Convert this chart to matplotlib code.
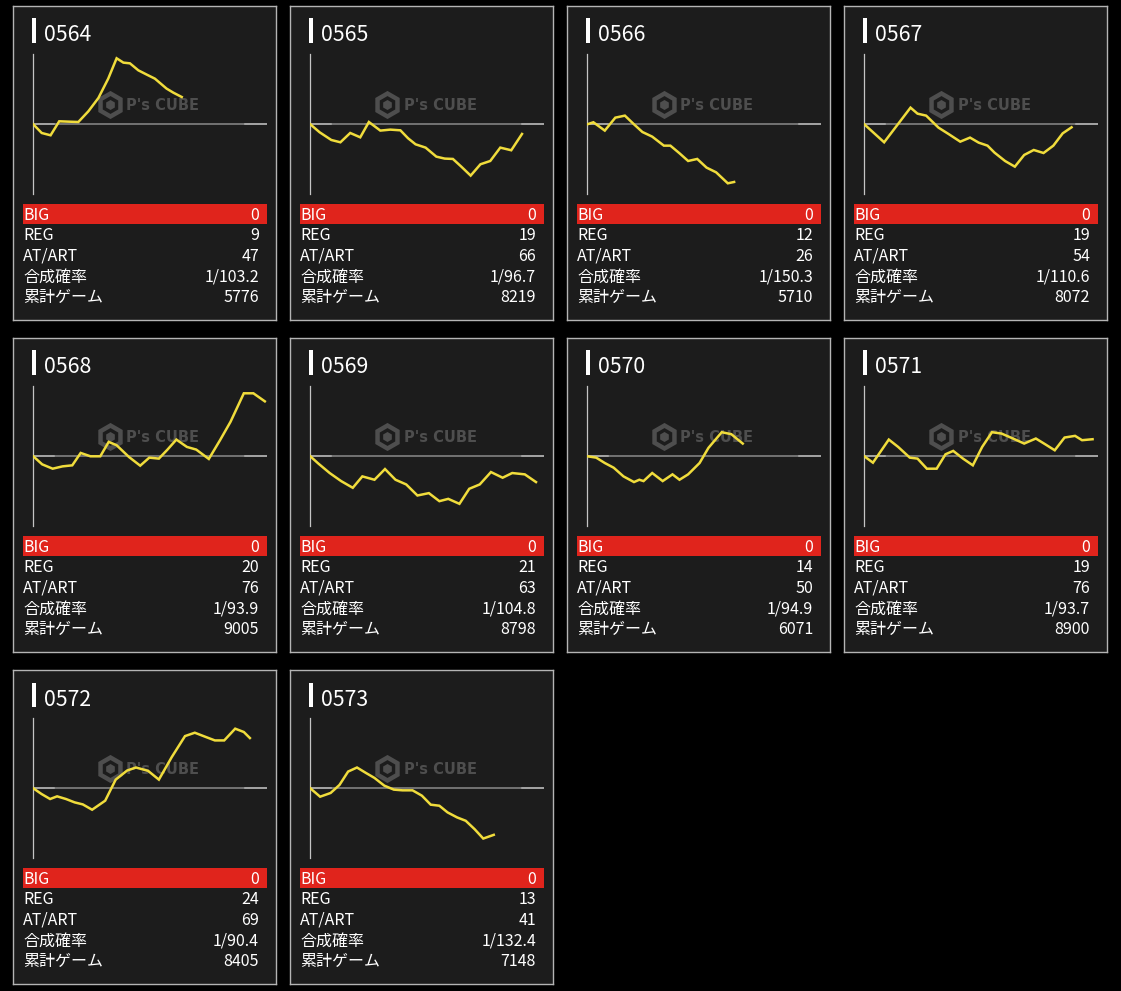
import matplotlib
matplotlib.use("Agg")
import matplotlib.pyplot as plt
from matplotlib.patches import Rectangle, RegularPolygon

plt.rcParams['font.family'] = ['Noto Sans CJK JP', 'DejaVu Sans']

# ---------------- data ----------------
machines = ["0564", "0565", "0566", "0567", "0568", "0569", "0570", "0571", "0572", "0573"]
big = [0, 0, 0, 0, 0, 0, 0, 0, 0, 0]
reg = [9, 19, 12, 19, 20, 21, 14, 19, 24, 13]
at_art = [47, 66, 26, 54, 76, 63, 50, 76, 69, 41]
prob = ["1/103.2", "1/96.7", "1/150.3", "1/110.6", "1/93.9", "1/104.8", "1/94.9", "1/93.7", "1/90.4", "1/132.4"]
games = [5776, 8219, 5710, 8072, 9005, 8798, 6071, 8900, 8405, 7148]
row_labels = ["BIG", "REG", "AT/ART", "合成確率", "累計ゲーム"]

# slump graphs: x = progress (% of axis width), y = coin difference (% of half range)
x_0564 = [0, 3.6, 7.4, 11.1, 15.0, 19.3, 23.6, 27.9, 32.1, 35.7, 38.6, 41.4, 45.0, 48.6, 52.1, 57.1, 60.0, 63.6]
y_0564 = [0, -12.4, -15.7, 4.3, 3.8, 3.3, 18.6, 37.6, 65.2, 94.3, 88.1, 87.1, 77.1, 71.0, 65.2, 51.0, 45.2, 39.0]

x_0565 = [0, 4.0, 9.0, 12.9, 17.1, 21.4, 25.1, 30.0, 34.3, 38.6, 41.9, 45.1, 49.4, 54.0, 57.6, 61.1, 64.7, 68.7, 72.9, 77.1, 81.4, 86.1, 90.7]
y_0565 = [0, -11.4, -22.4, -25.7, -12.4, -18.6, 3.3, -9.0, -7.6, -8.6, -20.0, -28.6, -33.3, -46.2, -49.0, -49.5, -60.5, -73.3, -57.1, -52.4, -33.3, -37.1, -13.8]

x_0566 = [0, 2.6, 7.5, 12.0, 16.1, 20.0, 23.6, 27.8, 32.8, 35.6, 39.5, 43.2, 47.1, 51.1, 55.2, 60.2, 62.9]
y_0566 = [0, 2.9, -9.0, 9.5, 12.4, 0, -11.0, -17.6, -30.5, -30.5, -41.4, -52.4, -49.5, -61.9, -68.6, -84.3, -82.4]

x_0567 = [0, 8.5, 19.8, 22.8, 26.5, 31.8, 36.3, 41.1, 45.3, 49.0, 52.8, 55.8, 60.3, 64.5, 68.5, 72.6, 76.8, 81.0, 85.0, 88.8]
y_0567 = [0, -25.7, 23.8, 15.2, 12.4, -4.8, -14.3, -24.8, -19.0, -26.2, -30.5, -40.5, -52.4, -60.5, -43.8, -36.7, -41.0, -30.5, -12.9, -4.3]

x_0568 = [0, 3.8, 8.3, 12.5, 16.7, 20.3, 24.5, 28.7, 32.3, 35.7, 41.0, 45.8, 49.7, 53.8, 57.5, 61.3, 65.8, 69.8, 75.2, 80.0, 84.5, 90.2, 94.3, 99.2]
y_0568 = [0, -11.5, -17.7, -14.4, -12.9, 4.8, 0, 0, 20.6, 15.8, -1.0, -13.4, -1.9, -3.3, 9.6, 23.9, 13.4, 9.6, -3.8, 23.0, 49.3, 90.0, 90.0, 78.5]

x_0569 = [0, 3.5, 8.3, 13.2, 18.2, 22.3, 27.5, 32.0, 36.5, 41.1, 45.9, 50.8, 55.3, 59.1, 63.9, 68.1, 72.6, 77.4, 82.4, 86.5, 91.9, 96.7]
y_0569 = [0, -10.5, -23.9, -35.4, -45.0, -28.7, -33.5, -18.2, -33.5, -40.2, -56.0, -52.6, -64.1, -60.8, -67.9, -46.4, -40.2, -22.5, -30.6, -23.9, -25.8, -36.8]

x_0570 = [0, 3.8, 7.5, 11.3, 15.5, 20.0, 22.3, 24.1, 27.8, 32.3, 36.5, 39.5, 43.2, 48.1, 51.9, 57.6, 61.7, 66.6]
y_0570 = [0, -1.9, -9.6, -16.3, -28.7, -36.8, -33.5, -35.4, -23.9, -35.4, -25.8, -33.5, -25.8, -9.6, 12.0, 34.4, 31.6, 18.2]

x_0571 = [0, 3.7, 10.5, 14.5, 19.5, 22.8, 26.8, 31.0, 34.8, 38.1, 42.3, 46.5, 50.5, 54.7, 58.8, 63.7, 68.5, 73.5, 77.5, 81.6, 85.8, 90.3, 93.3, 97.8]
y_0571 = [0, -9.1, 23.9, 13.4, -1.9, -3.3, -17.7, -17.7, 2.9, 7.7, -3.3, -12.9, 13.4, 34.4, 32.5, 25.4, 18.2, 25.4, 17.2, 8.6, 26.8, 29.2, 23.0, 24.4]

x_0572 = [0, 3.5, 7.2, 10.2, 14.0, 17.7, 21.2, 25.2, 30.8, 35.3, 40.2, 44.0, 49.2, 53.8, 59.3, 65.0, 69.2, 74.0, 77.8, 81.8, 86.5, 90.2, 92.8]
y_0572 = [0, -8.1, -15.3, -11.5, -15.3, -20.1, -23.0, -30.6, -17.7, 12.4, 25.4, 29.7, 24.9, 12.4, 44.5, 74.6, 79.4, 73.2, 68.4, 68.4, 85.2, 80.4, 71.8]

x_0573 = [0, 4.2, 8.7, 12.5, 16.2, 20.0, 23.8, 27.5, 31.7, 35.8, 39.5, 43.8, 47.8, 51.6, 55.3, 58.8, 62.9, 66.6, 70.4, 74.1, 78.6]
y_0573 = [0, -12.0, -6.7, 4.8, 23.9, 29.7, 22.0, 14.8, 3.8, -1.9, -2.9, -2.9, -10.5, -23.4, -24.9, -34.4, -41.6, -46.4, -58.4, -71.8, -66.5]

series_x = [x_0564, x_0565, x_0566, x_0567, x_0568, x_0569, x_0570, x_0571, x_0572, x_0573]
series_y = [y_0564, y_0565, y_0566, y_0567, y_0568, y_0569, y_0570, y_0571, y_0572, y_0573]

# ---------------- layout ----------------
W, H = 1121, 991
fig = plt.figure(figsize=(W / 100, H / 100), dpi=100, facecolor='black')

PANEL_W, PANEL_H = 263, 314
COL_X = [13, 290, 567, 844]
ROW_Y = [6, 338, 670]

BG = '#1c1c1c'
RED = '#e0241c'
YELLOW = '#f0dc3c'
TXT = '#ffffff'
WM = '#4e4e4e'


def fig_rect(px, py, pw, ph):
    return [px / W, 1 - (py + ph) / H, pw / W, ph / H]


for i, name in enumerate(machines):
    r, c = divmod(i, 4)
    px, py = COL_X[c], ROW_Y[r]

    pa = fig.add_axes(fig_rect(px, py, PANEL_W, PANEL_H))
    pa.set_facecolor(BG)
    pa.set_xlim(0, PANEL_W)
    pa.set_ylim(PANEL_H, 0)
    pa.set_xticks([])
    pa.set_yticks([])
    for s in pa.spines.values():
        s.set_color('#b4b4b4')
        s.set_linewidth(1.0)

    # title
    pa.add_patch(Rectangle((19, 12.5), 3.6, 24.5, color='white', lw=0))
    pa.text(31, 29.5, name, color=TXT, fontsize=15.3, va='center', ha='left')

    # watermark
    pa.add_patch(RegularPolygon((97.5, 99), numVertices=6, radius=11.5,
                                facecolor='none', edgecolor=WM, lw=3.2))
    pa.add_patch(RegularPolygon((97.5, 99), numVertices=6, radius=5.0,
                                facecolor=WM, edgecolor='none'))
    pa.text(150, 100, "P's CUBE", color=WM, fontsize=10.5,
            fontweight='heavy', family='DejaVu Sans', ha='center', va='center')

    # stats table
    pa.add_patch(Rectangle((9.7, 198), 244.3, 20, color=RED, lw=0))
    vals = [str(big[i]), str(reg[i]), str(at_art[i]), prob[i], str(games[i])]
    for k, (lab, v) in enumerate(zip(row_labels, vals)):
        yy = 209.2 + k * 20.6
        pa.text(10.3, yy, lab, color=TXT, fontsize=11.5, va='center', ha='left')
        pa.text(246, yy, v, color=TXT, fontsize=11.5, va='center', ha='right')

    # slump chart
    ca = fig.add_axes(fig_rect(px + 20.3, py + 48.3, 233.4, 140))
    ca.set_facecolor('none')
    ca.set_xlim(0, 100)
    ca.set_ylim(-100, 100)
    ca.set_xticks([])
    ca.set_yticks([])
    for side in ['top', 'right', 'bottom']:
        ca.spines[side].set_visible(False)
    ca.spines['left'].set_color('#c4c4c4')
    ca.spines['left'].set_linewidth(0.9)
    ca.axhline(0, color='#8a8a8a', lw=1.1, zorder=1)
    ca.axhline(0, xmin=0, xmax=0.09, color='#b0b0b0', lw=1.1, zorder=1)
    ca.axhline(0, xmin=0.905, xmax=1, color='#b0b0b0', lw=1.1, zorder=1)
    ca.plot(series_x[i], series_y[i], color=YELLOW, lw=1.8, zorder=3,
            solid_joinstyle='miter')

fig.savefig('out.png', dpi=100, facecolor='black')
